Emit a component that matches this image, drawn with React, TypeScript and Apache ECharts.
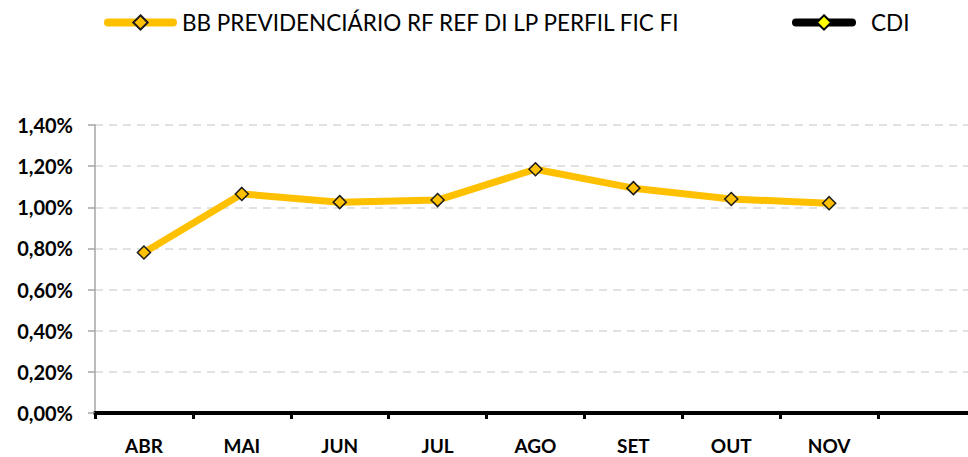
import React, { useEffect, useRef } from "react";
import * as echarts from "echarts";

const categories = ["ABR", "MAI", "JUN", "JUL", "AGO", "SET", "OUT", "NOV", ""];
const bbName = "BB PREVIDENCIÁRIO RF REF DI LP PERFIL FIC FI";
const bbValues = [0.78, 1.065, 1.025, 1.035, 1.185, 1.093, 1.04, 1.02, null];
const cdiName = "CDI";
const cdiValues: (number | null)[] = [null, null, null, null, null, null, null, null, null];

const FONT = "Lato, 'Open Sans', sans-serif";

export default function App() {
  const ref = useRef<HTMLDivElement>(null);
  useEffect(() => {
    document.body.style.margin = "0";
    const chart = echarts.init(ref.current!, null, { renderer: "svg" });
    chart.setOption({
      animation: false,
      backgroundColor: "#ffffff",
      legend: [
        {
          data: [bbName],
          left: 104,
          top: 11,
          padding: 0,
          itemWidth: 65,
          itemHeight: 18,
          lineStyle: { width: 8, cap: "round" },
          textStyle: { fontFamily: FONT, fontSize: 22.5, color: "#000", padding: [0, 0, 0, 4] },
        },
        {
          data: [cdiName],
          left: 792,
          top: 11,
          padding: 0,
          itemWidth: 56,
          itemHeight: 18,
          lineStyle: { width: 8, cap: "round" },
          textStyle: { fontFamily: FONT, fontSize: 22.5, color: "#000", padding: [0, 0, 0, 14] },
        },
      ],
      grid: {
        left: 95,
        width: 881,
        top: 125,
        bottom: 44,
        containLabel: false,
        outerBoundsMode: "none",
      },
      xAxis: {
        type: "category",
        data: categories,
        boundaryGap: true,
        axisLine: { lineStyle: { color: "#000", width: 4 } },
        axisTick: { show: true, length: 6, lineStyle: { color: "#000", width: 3 } },
        axisLabel: {
          fontFamily: FONT,
          fontWeight: "bold",
          fontSize: 19,
          lineHeight: 19,
          color: "#000",
          margin: 23,
          interval: 0,
        },
      },
      yAxis: {
        type: "value",
        min: 0,
        max: 1.4,
        interval: 0.2,
        axisLine: { show: true, lineStyle: { color: "#A6A6A6", width: 1.5 } },
        axisTick: { show: true, length: 7, lineStyle: { color: "#A6A6A6", width: 1.5 } },
        splitLine: { lineStyle: { color: "#D9D9D9", type: [8, 6], width: 1.5 } },
        axisLabel: {
          fontFamily: FONT,
          fontWeight: "bold",
          fontSize: 20,
          color: "#000",
          margin: 22,
          formatter: (v: number) => v.toFixed(2).replace(".", ",") + "%",
        },
      },
      series: [
        {
          name: bbName,
          type: "line",
          data: bbValues,
          symbol: "diamond",
          symbolSize: 13,
          lineStyle: { color: "#FFC000", width: 7 },
          itemStyle: { color: "#FFC000", borderColor: "#1a1a1a", borderWidth: 1.5 },
          z: 3,
        },
        {
          name: cdiName,
          type: "line",
          data: cdiValues,
          symbol: "diamond",
          symbolSize: 13,
          lineStyle: { color: "#000000", width: 7 },
          itemStyle: { color: "#FFFF00", borderColor: "#000", borderWidth: 1.5 },
        },
      ],
    });
    return () => chart.dispose();
  }, []);
  return <div ref={ref} style={{ width: 968, height: 457 }} />;
}
